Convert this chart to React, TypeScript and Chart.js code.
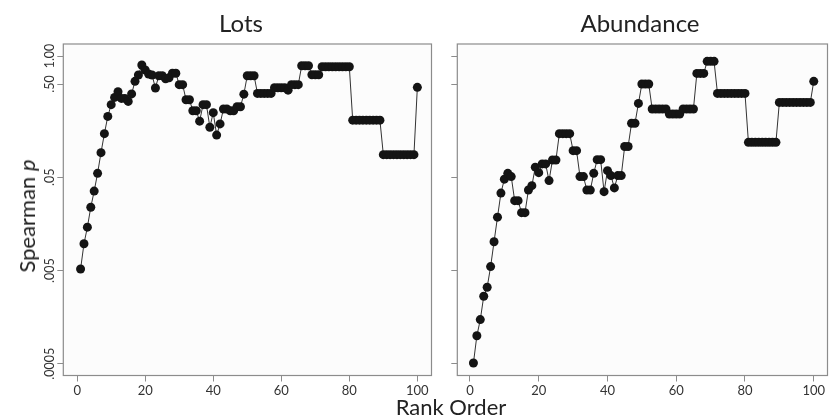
import React, { useEffect, useRef } from 'react';
import { Chart, registerables } from 'chart.js';

Chart.register(...registerables);

// Rank order categories (1..100)
const ranks: number[] = Array.from({ length: 100 }, (_, i) => i + 1);

// Spearman p-values, "Lots" panel
const lotsValues: number[] = [
  0.0052, 0.0097, 0.0146, 0.0239, 0.0356, 0.0552, 0.092, 0.147, 0.225, 0.301,
  0.36, 0.414, 0.351, 0.351, 0.326, 0.392, 0.535, 0.626, 0.801, 0.708,
  0.642, 0.626, 0.454, 0.615, 0.615, 0.571, 0.585, 0.654, 0.654, 0.493,
  0.493, 0.34, 0.34, 0.259, 0.259, 0.2, 0.301, 0.301, 0.172, 0.247,
  0.142, 0.187, 0.27, 0.27, 0.259, 0.259, 0.286, 0.286, 0.39, 0.615,
  0.615, 0.615, 0.397, 0.397, 0.397, 0.397, 0.397, 0.457, 0.457, 0.457,
  0.457, 0.43, 0.493, 0.493, 0.493, 0.787, 0.787, 0.787, 0.63, 0.63,
  0.63, 0.768, 0.768, 0.768, 0.768, 0.768, 0.768, 0.768, 0.768, 0.768,
  0.205, 0.205, 0.205, 0.205, 0.205, 0.205, 0.205, 0.205, 0.205, 0.0875,
  0.0875, 0.0875, 0.0875, 0.0875, 0.0875, 0.0875, 0.0875, 0.0875, 0.0875, 0.461,
];

// Spearman p-values, "Abundance" panel
const abundanceValues: number[] = [
  0.00051, 0.001, 0.00149, 0.00265, 0.00331, 0.00552, 0.0102, 0.0187, 0.0339, 0.0478,
  0.0552, 0.0509, 0.0281, 0.0281, 0.0209, 0.0209, 0.0366, 0.0407, 0.0643, 0.0561,
  0.0696, 0.0696, 0.0461, 0.0768, 0.0768, 0.147, 0.147, 0.147, 0.147, 0.0966,
  0.0966, 0.0509, 0.0509, 0.0365, 0.0365, 0.0552, 0.0774, 0.0774, 0.0351, 0.059,
  0.0522, 0.0385, 0.0522, 0.0522, 0.107, 0.107, 0.19, 0.19, 0.31, 0.501,
  0.501, 0.501, 0.27, 0.27, 0.27, 0.27, 0.27, 0.239, 0.239, 0.239,
  0.239, 0.27, 0.27, 0.27, 0.27, 0.651, 0.651, 0.651, 0.876, 0.876,
  0.876, 0.397, 0.397, 0.397, 0.397, 0.397, 0.397, 0.397, 0.397, 0.397,
  0.1186, 0.1186, 0.1186, 0.1186, 0.1186, 0.1186, 0.1186, 0.1186, 0.1186, 0.318,
  0.318, 0.318, 0.318, 0.318, 0.318, 0.318, 0.318, 0.318, 0.318, 0.535,
];

const yTickValues: number[] = [0.0005, 0.005, 0.05, 0.5, 1.0];
const yTickLabels: string[] = ['.0005', '.005', '.05', '.50', '1.00'];
const xTickValues: number[] = [0, 20, 40, 60, 80, 100];

const FONT = 'Lato, "Open Sans", sans-serif';
const FRAME = '#8c8c8c';

const framePlugin = {
  id: 'frame',
  beforeDraw(chart: any) {
    const { ctx, chartArea: a } = chart;
    ctx.save();
    ctx.fillStyle = '#fcfcfc';
    ctx.fillRect(a.left, a.top, a.right - a.left, a.bottom - a.top);
    ctx.restore();
  },
  beforeDatasetsDraw(chart: any) {
    const { ctx, chartArea: a } = chart;
    ctx.save();
    ctx.strokeStyle = FRAME;
    ctx.lineWidth = 1.2;
    ctx.strokeRect(a.left, a.top, a.right - a.left, a.bottom - a.top);
    ctx.restore();
  },
};

type PanelOpts = {
  values: number[];
  xMin: number;
  xMax: number;
  showYLabels: boolean;
  yAxisWidth: number;
  padRight: number;
};

function makeConfig(o: PanelOpts): any {
  return {
    type: 'line',
    data: {
      datasets: [
        {
          data: ranks.map((r, i) => ({ x: r, y: o.values[i] })),
          borderColor: '#333333',
          borderWidth: 1,
          pointRadius: 4.5,
          pointBackgroundColor: '#141414',
          pointBorderColor: '#141414',
          pointBorderWidth: 0,
          pointHoverRadius: 4.5,
          fill: false,
          tension: 0,
        },
      ],
    },
    options: {
      responsive: false,
      animation: false,
      devicePixelRatio: 1,
      layout: { padding: { left: 0, top: 44, right: o.padRight, bottom: 0 } },
      plugins: { legend: { display: false }, tooltip: { enabled: false }, title: { display: false } },
      scales: {
        x: {
          type: 'linear',
          min: o.xMin,
          max: o.xMax,
          afterBuildTicks: (s: any) => {
            s.ticks = xTickValues.map((v) => ({ value: v }));
          },
          afterFit: (s: any) => {
            s.height = 24.5;
          },
          ticks: {
            callback: (v: any) => String(v),
            font: { family: FONT, size: 13 },
            color: '#333',
            padding: 2,
            minRotation: 0,
            maxRotation: 0,
          },
          grid: { drawOnChartArea: false, drawTicks: true, tickLength: 6, color: FRAME },
          border: { display: false },
        },
        y: {
          type: 'logarithmic',
          min: 0.000375,
          max: 1.345,
          afterBuildTicks: (s: any) => {
            s.ticks = yTickValues.map((v) => ({ value: v }));
          },
          afterFit: (s: any) => {
            s.width = o.yAxisWidth;
          },
          ticks: {
            display: o.showYLabels,
            callback: (v: any) => {
              const i = yTickValues.indexOf(v);
              return i >= 0 ? yTickLabels[i] : '';
            },
            minRotation: 90,
            maxRotation: 90,
            crossAlign: 'center',
            padding: -9,
            font: { family: FONT, size: 12.5 },
            color: '#333',
          },
          grid: { drawOnChartArea: false, drawTicks: true, tickLength: 6, color: FRAME },
          border: { display: false },
        },
      },
    },
    plugins: [framePlugin],
  };
}

export default function App() {
  const leftRef = useRef<HTMLCanvasElement>(null);
  const rightRef = useRef<HTMLCanvasElement>(null);

  useEffect(() => {
    const left = new Chart(
      leftRef.current as HTMLCanvasElement,
      makeConfig({ values: lotsValues, xMin: -4.08, xMax: 104.16, showYLabels: true, yAxisWidth: 63.3, padRight: 1 })
    );
    const right = new Chart(
      rightRef.current as HTMLCanvasElement,
      makeConfig({ values: abundanceValues, xMin: -3.69, xMax: 104.0, showYLabels: false, yAxisWidth: 21.3, padRight: 3.7 })
    );
    return () => {
      left.destroy();
      right.destroy();
    };
  }, []);

  const textBase: React.CSSProperties = {
    position: 'absolute',
    fontFamily: FONT,
    color: '#222',
    whiteSpace: 'nowrap',
    transform: 'translate(-50%, -50%)',
    lineHeight: 1,
  };

  return (
    <div style={{ position: 'absolute', left: 0, top: 0, width: 832, height: 418, background: '#ffffff', overflow: 'hidden' }}>
      <canvas ref={leftRef} width={436} height={400} style={{ position: 'absolute', left: 0, top: 0 }} />
      <canvas ref={rightRef} width={396} height={400} style={{ position: 'absolute', left: 436, top: 0 }} />
      <div style={{ ...textBase, left: 241, top: 23, fontSize: 24 }}>Lots</div>
      <div style={{ ...textBase, left: 640, top: 23, fontSize: 24 }}>Abundance</div>
      <div style={{ ...textBase, left: 451, top: 407, fontSize: 22 }}>Rank Order</div>
      <div style={{ ...textBase, left: 27, top: 216, fontSize: 22, transform: 'translate(-50%, -50%) rotate(-90deg)' }}>
        Spearman <i>p</i>
      </div>
    </div>
  );
}
